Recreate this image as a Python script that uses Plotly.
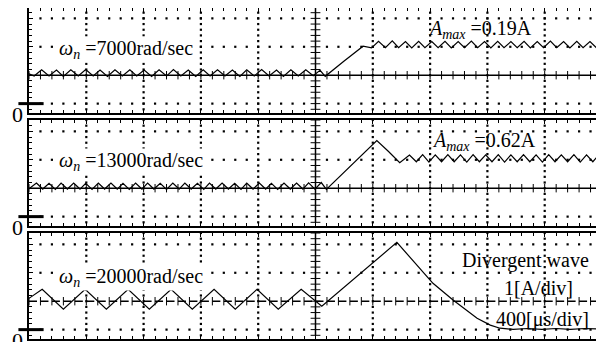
import numpy as np
import plotly.graph_objects as go

# ---------------- data (oscilloscope traces, in divisions) ----------------
p1_x = [0.00, 0.09, 0.22, 0.35, 0.48, 0.60, 0.73, 0.86, 0.99, 1.12, 1.24, 1.37, 1.50, 1.63,
        1.76, 1.88, 2.01, 2.14, 2.27, 2.40, 2.52, 2.65, 2.78, 2.91, 3.04, 3.16, 3.29, 3.42,
        3.55, 3.68, 3.80, 3.93, 4.06, 4.19, 4.32, 4.44, 4.57, 4.70, 4.83, 4.96, 5.08, 5.17,
        5.50, 5.83, 5.98, 6.10, 6.22, 6.34, 6.45, 6.57, 6.68, 6.80, 6.91, 7.03, 7.14, 7.26,
        7.37, 7.49, 7.60, 7.72, 7.83, 7.95, 8.06, 8.18, 8.29, 8.41, 8.52, 8.64, 8.75, 8.87,
        8.98, 9.10, 9.21, 9.33, 9.44, 9.56, 9.67, 9.79, 9.90, 10.00]
p1_y = [1.05, 0.97, 1.19, 0.97, 1.18, 0.96, 1.19, 0.97, 1.20, 0.97, 1.18, 0.96, 1.19, 0.97,
        1.19, 0.97, 1.18, 0.96, 1.19, 0.97, 1.20, 0.97, 1.18, 0.96, 1.19, 0.97, 1.19, 0.97,
        1.18, 0.96, 1.19, 0.97, 1.20, 0.97, 1.18, 0.96, 1.19, 0.97, 1.19, 0.98, 1.17, 0.96,
        1.50, 2.02, 1.96, 2.19, 1.97, 2.21, 1.97, 2.18, 1.96, 2.19, 1.97, 2.18, 1.97, 2.19,
        1.96, 2.18, 1.97, 2.20, 1.97, 2.18, 1.96, 2.19, 1.97, 2.18, 1.97, 2.19, 1.96, 2.18,
        1.97, 2.20, 1.97, 2.18, 1.96, 2.19, 1.97, 2.18, 1.97, 2.08]

p2_x = [0.00, 0.13, 0.24, 0.35, 0.46, 0.56, 0.67, 0.78, 0.89, 0.99, 1.10, 1.21, 1.32, 1.43,
        1.54, 1.64, 1.75, 1.86, 1.97, 2.07, 2.18, 2.29, 2.40, 2.51, 2.62, 2.72, 2.83, 2.94,
        3.05, 3.15, 3.26, 3.37, 3.48, 3.59, 3.70, 3.80, 3.91, 4.02, 4.13, 4.23, 4.34, 4.45,
        4.56, 4.67, 4.78, 4.88, 4.99, 5.10, 5.19, 5.60, 6.07, 6.27, 6.47, 6.64, 6.76, 6.87,
        6.98, 7.09, 7.20, 7.31, 7.42, 7.53, 7.64, 7.75, 7.86, 7.97, 8.08, 8.19, 8.30, 8.41,
        8.52, 8.63, 8.74, 8.85, 8.96, 9.07, 9.18, 9.29, 9.40, 9.51, 9.62, 9.73, 9.84, 9.95,
        10.00]
p2_y = [0.98, 1.18, 0.97, 1.17, 0.96, 1.18, 0.97, 1.18, 0.97, 1.17, 0.96, 1.18, 0.97, 1.18,
        0.97, 1.17, 0.96, 1.18, 0.97, 1.18, 0.97, 1.17, 0.96, 1.18, 0.97, 1.18, 0.97, 1.17,
        0.96, 1.18, 0.97, 1.18, 0.97, 1.17, 0.96, 1.18, 0.97, 1.18, 0.97, 1.17, 0.96, 1.18,
        0.97, 1.18, 0.97, 1.19, 0.97, 1.20, 0.96, 1.76, 2.68, 2.30, 1.90, 2.17, 1.93, 2.18,
        1.92, 2.17, 1.93, 2.18, 1.93, 2.17, 1.92, 2.18, 1.93, 2.17, 1.93, 2.18, 1.92, 2.17,
        1.93, 2.18, 1.93, 2.17, 1.92, 2.18, 1.93, 2.17, 1.93, 2.18, 1.92, 2.17, 1.93, 2.18,
        2.10]

p3_x = [0.00, 0.23, 0.60, 0.98, 1.35, 1.73, 2.10, 2.48, 2.85, 3.23, 3.60, 3.98, 4.35, 4.75,
        5.11, 6.42, 7.05, 7.40, 7.82, 8.05, 8.22, 8.45, 8.70, 8.95, 9.20, 9.45, 9.70, 10.00]
p3_y = [1.10, 1.42, 0.72, 1.42, 0.72, 1.42, 0.72, 1.42, 0.72, 1.42, 0.72, 1.42, 0.72, 1.42,
        0.82, 3.07, 1.63, 1.04, 0.40, 0.16, 0.05, 0.01, 0.04, 0.01, 0.04, 0.01, 0.04, 0.02]

omega_labels = ["7000", "13000", "20000"]
amax_labels = ["0.19A", "0.62A"]
info_lines = ["Divergent wave", "1[A/div]", "400[\u03bcs/div]"]

# ---------------- layout geometry ----------------
# the page body adds an 8 px offset, so the figure is 8 px smaller than the window
PAGE_OFF = 8
W, H = 604 - PAGE_OFF, 342 - PAGE_OFF
ML, MR, MT, MB = 21, 2, 0, 3
XR = [0, 10]
yranges = [[-0.33, 3.365], [-0.33, 3.40], [-0.33, 3.40]]
domains = [[0.68278, 1.0], [0.34139, 0.66163], [0.0, 0.32024]]
centre_dash = ["solid", "solid", "8px,3.46px"]
FONT = "Liberation Serif, Times New Roman, DejaVu Serif, serif"
plot_w = W - ML - MR

fig = go.Figure()
traces = [(p1_x, p1_y), (p2_x, p2_y), (p3_x, p3_y)]
hx = np.round(np.arange(0, 10.0001, 0.2), 3)
vy = np.round(np.arange(-0.2, 3.4001, 0.2), 3)

# dotted graticule positions (every minor division)
gx_h, gy_h = [], []
for yy in [0, 2, 3]:
    for xx in hx[1:-1]:
        if abs(xx - 5) > 1e-6:
            gx_h.append(xx)
            gy_h.append(yy)
gx_v, gy_v = [], []
for xx in [1, 2, 3, 4, 6, 7, 8, 9]:
    for yy in vy:
        gx_v.append(xx)
        gy_v.append(yy)

for i in range(3):
    xa = "x" if i == 0 else "x%d" % (i + 1)
    ya = "y" if i == 0 else "y%d" % (i + 1)
    fig.add_trace(go.Scatter(x=gx_h + gx_v, y=gy_h + gy_v, xaxis=xa, yaxis=ya, mode="markers",
                             marker=dict(symbol="square", size=2.2, color="black",
                                         line=dict(width=0)),
                             hoverinfo="skip"))
    # centre horizontal line with cross ticks
    fig.add_trace(go.Scatter(x=hx, y=[1] * len(hx), xaxis=xa, yaxis=ya, mode="lines+markers",
                             line=dict(color="black", width=1.5, dash=centre_dash[i]),
                             marker=dict(symbol="line-ns", size=6, color="black",
                                         line=dict(color="black", width=1)),
                             hoverinfo="skip"))
    # centre vertical line with cross ticks
    fig.add_trace(go.Scatter(x=[5] * len(vy), y=vy, xaxis=xa, yaxis=ya, mode="lines+markers",
                             line=dict(color="black", width=1.5),
                             marker=dict(symbol="line-ew", size=7, color="black",
                                         line=dict(color="black", width=1)),
                             hoverinfo="skip"))
    # waveform
    tx, ty = traces[i]
    fig.add_trace(go.Scatter(x=tx, y=ty, xaxis=xa, yaxis=ya, mode="lines",
                             line=dict(color="black", width=1.2), hoverinfo="skip"))
    # zero-level marker
    fig.add_trace(go.Scatter(x=[0.035], y=[0], xaxis=xa, yaxis=ya, mode="markers",
                             cliponaxis=False,
                             marker=dict(symbol="line-ew", size=18, color="black",
                                         line=dict(color="black", width=3)),
                             hoverinfo="skip"))

    axkey_x = "xaxis" if i == 0 else "xaxis%d" % (i + 1)
    axkey_y = "yaxis" if i == 0 else "yaxis%d" % (i + 1)
    fig.update_layout(**{
        axkey_x: dict(domain=[0, 1], anchor=ya, range=XR, showline=True, linecolor="black",
                      linewidth=1.5, mirror="allticks", ticks="inside", ticklen=4,
                      tickcolor="black", tickwidth=1, tick0=0, dtick=1,
                      showticklabels=False, zeroline=False, showgrid=False,
                      minor=dict(tick0=0, dtick=0.2, ticks="inside", ticklen=3,
                                 tickcolor="black", tickwidth=1, showgrid=False)),
        axkey_y: dict(domain=domains[i], anchor=xa, range=yranges[i], showline=True,
                      linecolor="black", linewidth=1.5, mirror="allticks", ticks="inside",
                      ticklen=4, tickcolor="black", tickwidth=1, tick0=0, dtick=1,
                      showticklabels=False, zeroline=False, showgrid=False,
                      minor=dict(tick0=0, dtick=0.2, ticks="inside", ticklen=3,
                                 tickcolor="black", tickwidth=1, showgrid=False)),
    })

ann = []
f20 = dict(family=FONT, size=20, color="black")
omega_y = [1.92, 1.95, 1.84]
for i in range(3):
    xa = "x" if i == 0 else "x%d" % (i + 1)
    ya = "y" if i == 0 else "y%d" % (i + 1)
    ann.append(dict(xref=xa, yref=ya, x=0.50, y=omega_y[i], xanchor="left", yanchor="middle",
                    text="<i>\u03c9</i><sub><i>n</i></sub> =%srad/sec" % omega_labels[i],
                    showarrow=False, font=f20, bgcolor="white", borderpad=0))
    ann.append(dict(xref="paper", yref=ya, x=(17 - PAGE_OFF - ML) / plot_w, y=0, yshift=-11,
                    xanchor="center", yanchor="middle", text="0", showarrow=False,
                    font=dict(family=FONT, size=22, color="black")))
amax_y = [2.62, 2.64]
amax_x = [6.93, 7.00]
for i in range(2):
    xa = "x" if i == 0 else "x%d" % (i + 1)
    ya = "y" if i == 0 else "y%d" % (i + 1)
    ann.append(dict(xref=xa, yref=ya, x=amax_x[i], y=amax_y[i], xanchor="left",
                    yanchor="middle",
                    text="<i>A</i><sub><i>max</i></sub> =%s" % amax_labels[i],
                    showarrow=False, font=f20))
info_x = [8.67, 8.90, 8.96]
info_y = [2.42, 1.46, 0.36]
for j in range(3):
    ann.append(dict(xref="x3", yref="y3", x=info_x[j], y=info_y[j], xanchor="center",
                    yanchor="middle", text=info_lines[j], showarrow=False, font=f20))

fig.update_layout(width=W, height=H,
                  margin=dict(l=ML, r=MR, t=MT, b=MB, autoexpand=False),
                  paper_bgcolor="white", plot_bgcolor="white", showlegend=False,
                  annotations=ann, font=dict(family=FONT))

fig.write_html("out.html")
